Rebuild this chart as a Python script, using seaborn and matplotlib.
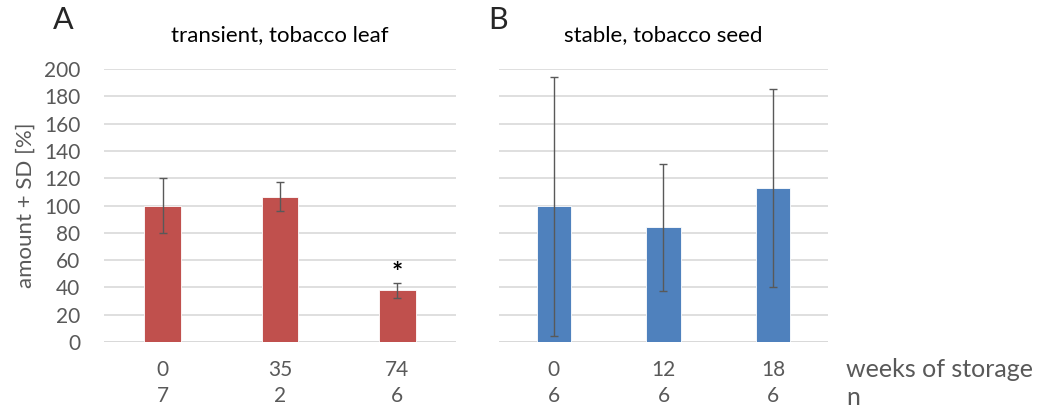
"""Protein amount after storage: transient leaf vs stable seed."""

import matplotlib.pyplot as plt
import pandas as pd
import seaborn as sns

# panel A: transient expression, tobacco leaf
leaf_weeks = ["0", "35", "74"]
leaf_n = ["7", "2", "6"]
leaf_amount = [100, 106.5, 38]
leaf_sd = [20, 10.5, 5.5]

# panel B: stable expression, tobacco seed
seed_weeks = ["0", "12", "18"]
seed_n = ["6", "6", "6"]
seed_amount = [99.5, 84, 112.5]
seed_sd = [95, 46.5, 72.5]

y_ticks = list(range(0, 201, 20))

RED = "#C0504D"
BLUE = "#4F81BD"
GRID = "#D9D9D9"
TEXT = "#595959"

sns.set_theme(style="white")
plt.rcParams["font.family"] = ["Lato", "DejaVu Sans"]

fig = plt.figure(figsize=(10.43, 4.11), dpi=100)
ax_a = fig.add_axes([0.0997, 0.1679, 0.3375, 0.6642])
ax_b = fig.add_axes([0.4784, 0.1679, 0.3154, 0.6642])


def draw_panel(ax, weeks, n, amount, sd, color, title):
    df = pd.DataFrame({"weeks": weeks, "amount": amount})
    sns.barplot(data=df, x="weeks", y="amount", color=color, width=0.315,
                saturation=1, edgecolor="white", linewidth=0.6, ax=ax, zorder=2)
    ax.errorbar(range(len(weeks)), amount, yerr=sd, fmt="none", ecolor=TEXT,
                elinewidth=1, capsize=3, capthick=1, zorder=3)
    ax.set_ylim(0, 200)
    ax.set_xlim(-0.5, len(weeks) - 0.5)
    ax.set_yticks(y_ticks)
    ax.yaxis.grid(True, color=GRID, linewidth=1.2, zorder=0)
    ax.set_axisbelow(True)
    ax.axhline(0, color=GRID, linewidth=2, zorder=1)
    for spine in ax.spines.values():
        spine.set_visible(False)
    ax.set_xticks(range(len(weeks)))
    ax.set_xticklabels([f"{w}\n{k}" for w, k in zip(weeks, n)],
                       linespacing=1.4)
    ax.tick_params(axis="x", length=0, pad=13, labelsize=15, colors=TEXT)
    ax.tick_params(axis="y", length=0, pad=17, labelsize=15, colors=TEXT)
    ax.set_xlabel("")
    ax.set_ylabel("")
    ax.set_title(title, fontsize=16, color="black", pad=20)


draw_panel(ax_a, leaf_weeks, leaf_n, leaf_amount, leaf_sd, RED,
           "transient, tobacco leaf")
draw_panel(ax_b, seed_weeks, seed_n, seed_amount, seed_sd, BLUE,
           "stable, tobacco seed")

ax_a.set_ylabel("amount + SD [%]", fontsize=16, color=TEXT, labelpad=6)
ax_b.tick_params(axis="y", labelleft=False)

# significance mark over the 74-week bar
ax_a.text(2, leaf_amount[2] + leaf_sd[2] + 7, "*", ha="center", va="center",
          fontsize=19, fontweight="bold", color="black")

fig.text(0.0508, 0.952, "A", fontsize=22, ha="left", va="center")
fig.text(0.4685, 0.952, "B", fontsize=22, ha="left", va="center")

fig.text(0.811, 0.0998, "weeks of storage", fontsize=18, color=TEXT,
         ha="left", va="center")
fig.text(0.811, 0.0317, "n", fontsize=18, color=TEXT, ha="left", va="center")

fig.savefig("out.png", dpi=100)
